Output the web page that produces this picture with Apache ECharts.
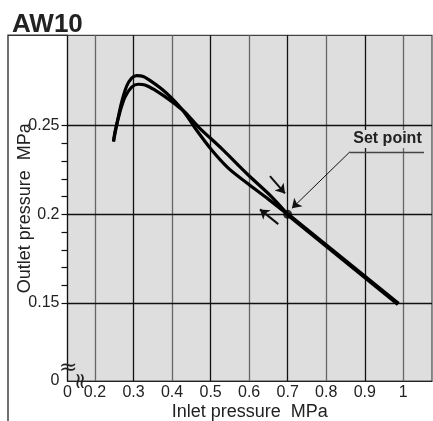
<!DOCTYPE html>
<html><head><meta charset="utf-8">
<script src="https://cdn.jsdelivr.net/npm/echarts@6/dist/echarts.min.js"></script>
<style>html,body{margin:0;padding:0;background:#fff}#c{width:433px;height:421px}</style>
</head><body><div id="c"></div>
<script>
// axis ranges (broken axes: the left / bottom edge is labelled 0)
const xMin = 0.12865, xMax = 1.0745;
const yMin = 0.106, yMax = 0.301;
const xTickValues = [0.2, 0.3, 0.4, 0.5, 0.6, 0.7, 0.8, 0.9, 1.0];
const xDarkLines = [0.3, 0.5, 0.7, 0.9];
const yTickLabels = [0.15, 0.2, 0.25];
const yTickMarks = [0.15, 0.16, 0.17, 0.18, 0.19, 0.2, 0.21, 0.22, 0.23, 0.24, 0.25];

// characteristic curves [inlet MPa, outlet MPa]
const loopA = [[0.248,0.2411],[0.2563,0.2504],[0.2693,0.2634],[0.2823,0.2724],[0.2952,0.2769],
  [0.3082,0.2783],[0.3253,0.2778],[0.3471,0.2749],[0.3731,0.2707],[0.399,0.2656],[0.4206,0.2606],
  [0.4387,0.2555],[0.4595,0.2487],[0.5028,0.2363],[0.5459,0.2261],[0.5978,0.2171],[0.6497,0.2086],[0.70,0.20]];
const loopB = [[0.248,0.2411],[0.2519,0.2466],[0.2649,0.2579],[0.2778,0.2662],[0.2952,0.2718],
  [0.3124,0.2734],[0.3297,0.273],[0.3557,0.2701],[0.3816,0.2664],[0.4076,0.2622],[0.4335,0.2577],
  [0.468,0.2494],[0.5287,0.2371],[0.5978,0.2222],[0.6585,0.2099],[0.70,0.20]];
const commonLine = [[0.70,0.20],[0.987,0.1494]];
const setPoint = [[0.70,0.20]];

// annotations
const arrowDown = [[0.654,0.2216],[0.693,0.2118]];
const arrowUp = [[0.6756,0.1945],[0.6281,0.2028]];
const leader = [[0.8616,0.2353],[0.7111,0.2034]];
const underline = [[0.8616,0.2353],[1.0537,0.2353]];
const setPointLabelPos = [0.959,0.2425];

const FONT = 'Liberation Sans';
const near = (a,b)=>Math.abs(a-b)<1e-6;
const fmt = v => String(+(+v).toFixed(2));

const chart = echarts.init(document.getElementById('c'));
const gridLines = [];
xTickValues.forEach(v => gridLines.push({xAxis: v, lineStyle:{color: xDarkLines.some(d=>near(d,v)) ? '#111' : '#666', width:1.3, type:'solid'}}));
yTickLabels.forEach(v => gridLines.push({yAxis: v, lineStyle:{color:'#111', width:1.3, type:'solid'}}));

chart.setOption({
  animation:false,
  textStyle:{fontFamily:FONT},
  title:{text:'AW10', left:7, top:7, textStyle:{fontFamily:FONT, fontSize:26, fontWeight:'bold', color:'#222'}},
  grid:{left:67.5, right:1, top:35.3, bottom:40, containLabel:false, outerBoundsMode:'none',
    show:true, backgroundColor:'#dedede', borderColor:'#444', borderWidth:1.2},
  xAxis:{type:'value', min:xMin, max:xMax,
    name:'Inlet pressure  MPa', nameLocation:'middle', nameGap:22, nameMoveOverlap:false,
    nameTextStyle:{fontFamily:FONT, fontSize:18, color:'#222', verticalAlign:'top'},
    axisLine:{show:true, lineStyle:{color:'#222', width:1.2}},
    axisTick:{show:false}, splitLine:{show:false},
    axisLabel:{customValues:[xMin].concat(xTickValues), margin:4, fontFamily:FONT, fontSize:16, color:'#222',
      formatter: v => near(v,xMin) ? '0' : fmt(v), showMinLabel:true, showMaxLabel:true}},
  yAxis:{type:'value', min:yMin, max:yMax,
    name:'Outlet pressure  MPa', nameLocation:'middle', nameGap:33, nameMoveOverlap:false,
    nameTextStyle:{fontFamily:FONT, fontSize:18, color:'#222'},
    axisLine:{show:true, lineStyle:{color:'#111', width:1.2}},
    axisTick:{show:true, inside:false, length:6, customValues:yTickMarks, lineStyle:{color:'#111', width:1.2}},
    splitLine:{show:false},
    axisLabel:{customValues:[yMin].concat(yTickLabels), margin:8, fontFamily:FONT, fontSize:16, color:'#222',
      formatter: v => near(v,yMin) ? '0' : fmt(v), showMinLabel:true}},
  graphic:[
    {type:'polyline', shape:{points:[[8,421],[8,35.3],[67.5,35.3]]}, style:{stroke:'#333', lineWidth:1.4, fill:null}, z:10},
    {type:'text', left:59, top:357, style:{text:'≈', fontSize:22, fontFamily:'DejaVu Sans', fill:'#222'}, z:10},
    {type:'text', x:81, y:381, rotation:Math.PI/2, style:{text:'≈', fontSize:22, fontFamily:'DejaVu Sans', fill:'#222', align:'center', verticalAlign:'middle'}, z:10}
  ],
  series:[
    {type:'line', data:[], silent:true, z:1,
      markLine:{silent:true, symbol:['none','none'], label:{show:false}, animation:false, data:gridLines}},
    {type:'line', data:loopA, showSymbol:false, smooth:0.3, z:5, lineStyle:{color:'#000', width:3.2}},
    {type:'line', data:loopB, showSymbol:false, smooth:0.3, z:5, lineStyle:{color:'#000', width:3.2}},
    {type:'line', data:commonLine, showSymbol:false, z:5, lineStyle:{color:'#000', width:4.4}},
    {type:'scatter', data:setPoint, symbolSize:9, z:6, itemStyle:{color:'#000'}},
    {type:'line', data:[], silent:true, z:7,
      markLine:{silent:true, symbol:['none','arrow'], symbolSize:9, label:{show:false}, animation:false,
        data:[
          [{coord:arrowDown[0], lineStyle:{color:'#111', width:2, type:'solid'}},{coord:arrowDown[1]}],
          [{coord:arrowUp[0], lineStyle:{color:'#111', width:2, type:'solid'}},{coord:arrowUp[1]}],
          [{coord:leader[0], lineStyle:{color:'#111', width:1, type:'solid'}},{coord:leader[1]}]
        ]}},
    {type:'line', data:[], silent:true, z:7,
      markLine:{silent:true, symbol:['none','none'], label:{show:false}, animation:false,
        data:[[{coord:underline[0], lineStyle:{color:'#444', width:1.3, type:'solid'}},{coord:underline[1]}]]},
      markPoint:{silent:true, symbol:'circle', symbolSize:0,
        data:[{coord:setPointLabelPos, label:{show:true, formatter:'Set point', position:'inside', fontFamily:FONT, fontSize:16, fontWeight:'bold', color:'#222', backgroundColor:'#dedede', padding:[1,2]}}]}}
  ]
});
</script></body></html>
